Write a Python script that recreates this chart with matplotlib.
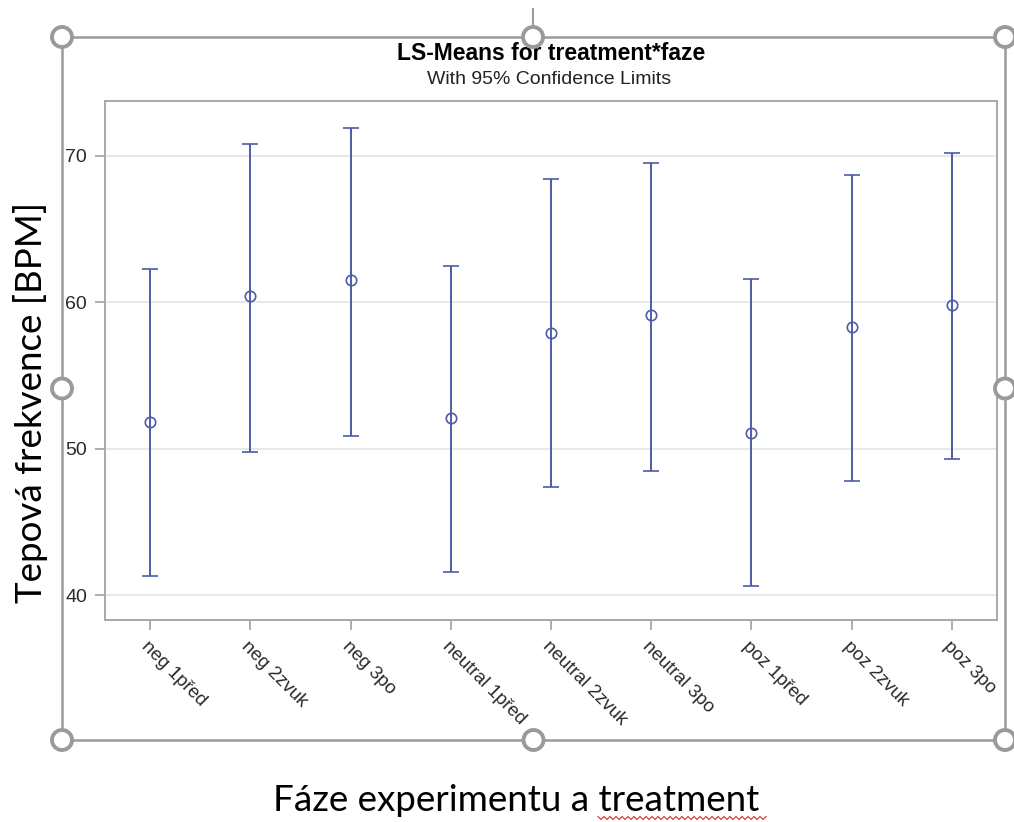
"""LS-means with 95 % confidence limits for treatment*faze (SAS-style figure)."""
import matplotlib
matplotlib.use("Agg")
import matplotlib.pyplot as plt
import numpy as np
from matplotlib.patches import Ellipse, Rectangle
from matplotlib.lines import Line2D

W, H = 1014, 822

categories = ["neg 1před", "neg 2zvuk", "neg 3po",
              "neutral 1před", "neutral 2zvuk", "neutral 3po",
              "poz 1před", "poz 2zvuk", "poz 3po"]
lsmean = [51.8, 60.4, 61.5, 52.1, 57.9, 59.1, 51.1, 58.3, 59.8]
upper = [62.3, 70.8, 71.9, 62.5, 68.4, 69.5, 61.6, 68.7, 70.2]
lower = [41.3, 49.8, 50.9, 41.6, 47.4, 48.5, 40.6, 47.8, 49.3]
yticks = [40, 50, 60, 70]

BLUE = "#4d5ca6"
FRAME = "#9a9a9a"


def px(x, y):
    """Pixel position (top-left origin) -> figure fraction."""
    return x / W, 1 - y / H


fig = plt.figure(figsize=(W / 100, H / 100), dpi=100)
ax = fig.add_axes([105 / W, 1 - 620 / H, 892 / W, 519 / H])

x = np.arange(len(categories))
m = np.array(lsmean)
yerr = [m - np.array(lower), np.array(upper) - m]
ax.errorbar(x, m, yerr=yerr, fmt="o", color=BLUE, mfc="none", mec=BLUE,
            ms=7.5, mew=1.2, elinewidth=1.4, capsize=6, capthick=1.4, zorder=3)

ax.set_xlim(-0.45, 8.45)
ax.set_ylim(38.3, 73.75)
ax.set_yticks(yticks)
ax.set_xticks(x)
ax.set_xticklabels(categories, rotation=-45, ha="left", va="top",
                   rotation_mode="anchor", fontsize=13.5,
                   family="Liberation Sans", color="#2a2a2a")
for t in ax.get_yticklabels():
    t.set_fontsize(14)
    t.set_family("Liberation Sans")
    t.set_color("#2a2a2a")
ax.tick_params(axis="both", length=7, color="#a0a0a0", width=1.2, pad=6)
ax.grid(axis="y", color="#e4e4e4", lw=1.2, zorder=0)
ax.set_axisbelow(True)
for s in ax.spines.values():
    s.set_color("#a8a8a8")
    s.set_linewidth(1.4)

# Titles as in the SAS output
fig.text(*px(551, 53), "LS-Means for treatment*faze", ha="center", va="center",
         fontsize=16.5, fontweight="bold", family="Liberation Sans")
fig.text(*px(549, 79), "With 95% Confidence Limits", ha="center", va="center",
         fontsize=14, family="Liberation Sans", color="#222222")

# Word-document axis captions
fig.text(*px(31, 402), "Tepová frekvence [BPM]", rotation=90, ha="center",
         va="center", fontsize=26.5, family="Lato")
fig.text(*px(516, 800), "Fáze experimentu a treatment", ha="center",
         va="center", fontsize=26.5, family="Lato")

# spell-check squiggle under "treatment"
zx = np.arange(598, 768, 3)
zy = 818 + np.where(np.arange(zx.size) % 2 == 0, -1.5, 1.5)
fig.add_artist(Line2D(zx / W, 1 - zy / H, color="#e04040", lw=0.9))

# image selection frame with handles
x0, y0, x1, y1 = 62, 37, 1005, 740
fig.add_artist(Rectangle(px(x0, y1), (x1 - x0) / W, (y1 - y0) / H,
                         fill=False, ec=FRAME, lw=1.8, zorder=10))
fig.add_artist(Line2D([533 / W, 533 / W], [1 - 9 / H, 1 - 27 / H],
                      color=FRAME, lw=1.5, zorder=10))
xm, ym = (x0 + x1) / 2, (y0 + y1) / 2
for hx, hy in [(x0, y0), (533, y0), (x1, y0), (x0, ym), (x1, ym),
               (x0, y1), (xm, y1), (x1, y1)]:
    fig.add_artist(Ellipse(px(hx, hy), 20 / W, 20 / H,
                           transform=fig.transFigure,
                           fc="white", ec=FRAME, lw=2.8, zorder=11))

fig.savefig("out.png", dpi=100)
